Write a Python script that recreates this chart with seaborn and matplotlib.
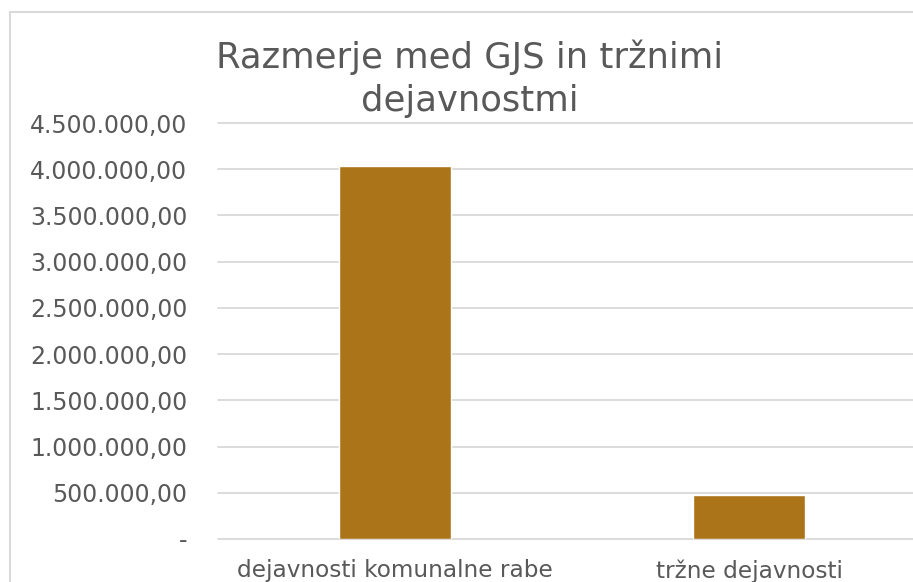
import matplotlib
matplotlib.use("Agg")
import pandas as pd
import seaborn as sns
from matplotlib import pyplot as plt
from matplotlib.patches import Rectangle

# data
categories = ["dejavnosti komunalne rabe", "tržne dejavnosti"]
values = [4040000, 475000]
tick_values = [0, 500000, 1000000, 1500000, 2000000, 2500000,
               3000000, 3500000, 4000000, 4500000]
tick_labels = ["-", "500.000,00", "1.000.000,00", "1.500.000,00",
               "2.000.000,00", "2.500.000,00", "3.000.000,00",
               "3.500.000,00", "4.000.000,00", "4.500.000,00"]
title = "Razmerje med GJS in tržnimi\ndejavnostmi"

df = pd.DataFrame({"kategorija": categories, "vrednost": values})

sns.set_theme(style="white")
plt.rcParams["font.family"] = ["DejaVu Sans"]
text_col = "#595959"
grid_col = "#D9D9D9"

W, H = 913, 582
fig = plt.figure(figsize=(W / 100, H / 100), dpi=100)
# plot area: left 218px, bottom gridline 539px, top gridline 123px
ax = fig.add_axes([218 / W, (H - 539) / H, (2 * 354) / W, (539 - 123) / H])

sns.barplot(data=df, x="kategorija", y="vrednost", color="#AB7419",
            saturation=1, width=0.314, ax=ax, zorder=3)

ax.set_ylim(0, 4500000)
ax.set_xlim(-0.5, 1.5)
ax.set_yticks(tick_values)
ax.set_yticklabels(tick_labels)
for y in tick_values:
    ax.axhline(y, color=grid_col, lw=1.3, zorder=1, clip_on=False)

ax.set_xlabel("")
ax.set_ylabel("")
for s in ax.spines.values():
    s.set_visible(False)
ax.tick_params(axis="y", length=0, pad=22, labelsize=17, labelcolor=text_col)
ax.tick_params(axis="x", length=0, pad=14.5, labelsize=16.7, labelcolor=text_col)

fig.text(470 / W, 1 - 79 / H, title, ha="center", va="center",
         fontsize=25.5, color=text_col, linespacing=1.32)

# chart border (partly cut off on the right and bottom)
fig.patches.append(Rectangle((10 / W, -0.1), 1.2, 1.1 - 12 / H,
                             transform=fig.transFigure, fill=False,
                             edgecolor=grid_col, lw=1.5))

fig.savefig("out.png", dpi=100)
